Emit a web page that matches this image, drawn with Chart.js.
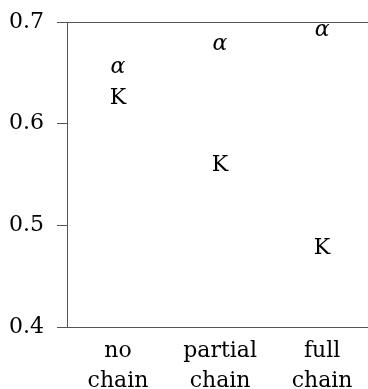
<!DOCTYPE html>
<html>
<head>
<meta charset="utf-8">
<script src="https://cdn.jsdelivr.net/npm/chart.js@4/dist/chart.umd.min.js"></script>
<style>
  body { margin: 0; background: #fff; overflow: hidden; }
  #wrap { width: 368px; height: 389px; position: relative; }
</style>
</head>
<body>
<div id="wrap"><canvas id="chart"></canvas></div>
<script>
// categories (two-line tick labels)
const categories = [['no', 'chain'], ['partial', 'chain'], ['full', 'chain']]
// values
const alphaVals = [0.656, 0.678, 0.692]
const kVals = [0.627, 0.561, 0.480]
const yTicks = [0.4, 0.5, 0.6, 0.7]

const axisColor = '#555'
const fontFam = '"DejaVu Serif", serif'

// draws each point as a text marker at the position the scales give it
const textMarks = {
  id: 'textMarks',
  afterDatasetsDraw(chart) {
    const ctx = chart.ctx
    chart.data.datasets.forEach((ds, di) => {
      const meta = chart.getDatasetMeta(di)
      ctx.save()
      ctx.fillStyle = '#000'
      ctx.font = ds.markFont
      ctx.textAlign = 'center'
      ctx.textBaseline = 'alphabetic'
      const m = ctx.measureText(ds.mark)
      const off = (m.actualBoundingBoxAscent - m.actualBoundingBoxDescent) / 2
      meta.data.forEach(pt => {
        ctx.fillText(ds.mark, pt.x, pt.y + off)
      })
      ctx.restore()
    })
  }
}

new Chart(document.getElementById('chart'), {
  type: 'scatter',
  data: {
    datasets: [
      {
        label: 'alpha',
        mark: 'α',
        markFont: 'italic 22px ' + fontFam,
        data: alphaVals.map((v, i) => ({x: i, y: v})),
        pointRadius: 0
      },
      {
        label: 'K',
        mark: 'K',
        markFont: '22px ' + fontFam,
        data: kVals.map((v, i) => ({x: i, y: v})),
        pointRadius: 0
      }
    ]
  },
  options: {
    responsive: true,
    maintainAspectRatio: false,
    animation: false,
    layout: { padding: { top: 22, right: 0, left: 0, bottom: 0 } },
    plugins: { legend: { display: false }, tooltip: { enabled: false } },
    scales: {
      x: {
        type: 'linear',
        position: 'bottom',
        min: -0.5,
        max: 2.45,
        afterBuildTicks: s => { s.ticks = categories.map((c, i) => ({value: i})) },
        afterFit: s => { s.height = 62; s.paddingLeft = 0; s.paddingRight = 0 },
        grid: { display: false },
        border: { color: axisColor, width: 1 },
        ticks: {
          color: '#000',
          padding: 1,
          maxRotation: 0,
          autoSkip: false,
          font: { family: fontFam, size: 22, lineHeight: 1.36 },
          callback: v => categories[v]
        }
      },
      x2: {
        type: 'linear',
        position: 'top',
        min: -0.5,
        max: 2.45,
        afterFit: s => { s.height = 0; s.paddingLeft = 0; s.paddingRight = 0 },
        grid: { display: false },
        border: { color: axisColor, width: 1 },
        ticks: { display: false }
      },
      y: {
        min: 0.4,
        max: 0.7,
        afterBuildTicks: s => { s.ticks = yTicks.map(v => ({value: v})) },
        afterFit: s => { s.width = 67; s.paddingTop = 0; s.paddingBottom = 0 },
        grid: {
          display: true,
          drawOnChartArea: false,
          drawTicks: true,
          tickLength: 10,
          color: axisColor
        },
        border: { color: axisColor, width: 1 },
        ticks: {
          color: '#000',
          padding: 13,
          font: { family: fontFam, size: 22 },
          callback: v => v.toFixed(1)
        }
      }
    }
  },
  plugins: [textMarks]
})
</script>
</body>
</html>
